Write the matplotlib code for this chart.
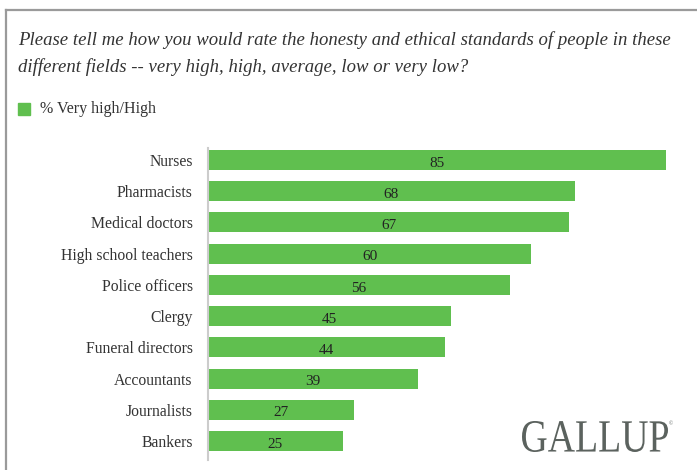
import matplotlib
matplotlib.use("Agg")
import matplotlib.pyplot as plt
from matplotlib.textpath import TextPath
from matplotlib.patches import PathPatch, Rectangle
from matplotlib.font_manager import FontProperties
from matplotlib.transforms import Affine2D, IdentityTransform
from matplotlib.lines import Line2D

categories = ["Nurses", "Pharmacists", "Medical doctors", "High school teachers",
              "Police officers", "Clergy", "Funeral directors", "Accountants",
              "Journalists", "Bankers"]
very_high = [85, 68, 67, 60, 56, 45, 44, 39, 27, 25]

title = ("Please tell me how you would rate the honesty and ethical standards of people in these\n"
         "different fields -- very high, high, average, low or very low?")
legend_label = "% Very high/High"

GREEN = "#60bf4f"
W, H = 697, 470
SERIF = "Liberation Serif"

fig = plt.figure(figsize=(W / 100, H / 100), dpi=100)

# frame: top and left grey lines
fig.add_artist(Line2D([6 / W, 1], [1 - 10 / H, 1 - 10 / H], color="#9a9a9a", lw=1.6))
fig.add_artist(Line2D([6 / W, 6 / W], [0, 1 - 10 / H], color="#9a9a9a", lw=1.6))

fig.text(18 / W, 1 - 31 / H, title, ha="left", va="top", fontsize=13.5,
         family=SERIF, style="italic", color="#333333", linespacing=1.7)

fig.add_artist(Rectangle((18 / W, 1 - 115 / H), 12 / W, 12 / H, color=GREEN,
                         transform=fig.transFigure))
fig.text(40 / W, 1 - 109 / H, legend_label, ha="left", va="center", fontsize=11.5,
         family=SERIF, color="#333333")

ax = fig.add_axes([208 / W, 10 / H, (690 - 208) / W, (460 - 148) / H])
ypos = list(range(len(categories)))
ax.barh(ypos, very_high, height=0.64, color=GREEN)
for y, v in zip(ypos, very_high):
    ax.text(v / 2, y + 0.1, str(v), ha="center", va="center", fontsize=11,
            family=SERIF, color="#222222")
ax.set_xlim(0, (690 - 208) / 5.39)
ax.set_ylim(9.61, -0.385)
ax.set_yticks(ypos)
ax.set_yticklabels(categories, family=SERIF, fontsize=11.3, color="#333333")
ax.tick_params(axis="y", length=0, pad=11)
ax.set_xticks([])
for s in ["top", "right", "bottom"]:
    ax.spines[s].set_visible(False)
ax.spines["left"].set_color("#cccccc")
ax.spines["left"].set_linewidth(1.5)

# GALLUP logo as text path, scaled to fit its box
tp = TextPath((0, 0), "GALLUP", size=40, prop=FontProperties(family=SERIF))
ext = tp.get_extents()
sx = (668 - 522) / ext.width
sy = (452 - 421) / ext.height
tr = Affine2D().translate(-ext.x0, -ext.y0).scale(sx, sy).translate(522, H - 452)
fig.add_artist(PathPatch(tr.transform_path(tp), transform=IdentityTransform(),
                         color="#5b625e", lw=0))
fig.text(671 / W, 1 - 424 / H, "\u00a9", fontsize=4, color="#5b625e",
         ha="center", va="center", family=SERIF)

fig.savefig("out.png", dpi=100)
